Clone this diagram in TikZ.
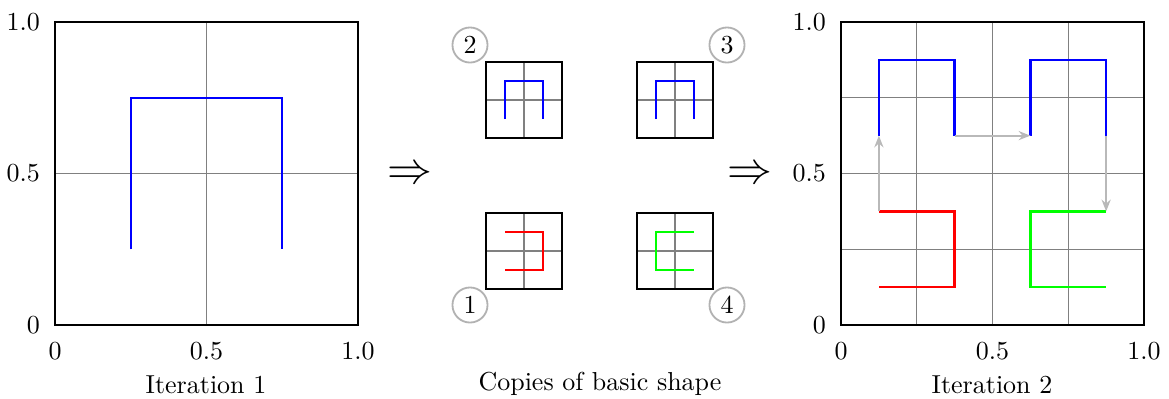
\documentclass[tikz,border=0pt]{standalone}
\usetikzlibrary{arrows.meta}
\begin{document}
\begin{tikzpicture}[x=0.385pt,y=-0.385pt,
  frame/.style={line width=1pt,black},
  gridl/.style={gray,line width=0.4pt},
  curve/.style={line width=0.9pt},
  link/.style={gray!55,line width=0.8pt,-{Stealth[length=4.5pt,width=3.5pt]}},
  num/.style={circle,draw=gray!60,line width=0.7pt,minimum size=13.5pt,inner sep=0pt,font=\normalsize},
  ytick/.style={font=\normalsize,inner sep=0pt,anchor=east,xshift=-5.6pt},
  xtick/.style={font=\normalsize,inner sep=0pt,anchor=north,yshift=-6.3pt},
  impl/.style={font=\fontsize{16}{18}\selectfont,inner sep=0pt}]
\useasboundingbox (0,0) rectangle (1169,398);
% ---------- Left plot ----------
\begin{scope}[shift={(55,325)},x={(116.66pt,0)},y={(0,116.66pt)}]
  \draw[gridl] (0.5,0) -- (0.5,1) (0,0.5) -- (1,0.5);
  \draw[curve,blue] (0.25,0.25) -- (0.25,0.75) -- (0.75,0.75) -- (0.75,0.25);
  \draw[frame] (0,0) rectangle (1,1);
  \node[ytick] (ly0) at (0,0) {0};
  \node[ytick] (ly1) at (0,0.5) {0.5};
  \node[ytick] (ly2) at (0,1) {1.0};
  \node[xtick] (lx0) at (0,0) {0};
  \node[xtick] (lx1) at (0.5,0) {0.5};
  \node[xtick] (lx2) at (1,0) {1.0};
\end{scope}
\node (cap1) at (206,385) {Iteration 1};
% ---------- implication arrows ----------
\node[impl] (imp1) at (410,175) {$\Rightarrow$};
\node[impl] (imp2) at (750,175) {$\Rightarrow$};
% ---------- Middle copies ----------
% box 2 (top-left)
\begin{scope}[shift={(486,138)},x={(29.26pt,0)},y={(0,29.26pt)}]
  \draw[gridl] (0.5,0) -- (0.5,1) (0,0.5) -- (1,0.5);
  \draw[curve,blue] (0.25,0.25) -- (0.25,0.75) -- (0.75,0.75) -- (0.75,0.25);
  \draw[frame] (0,0) rectangle (1,1);
\end{scope}
% box 3 (top-right)
\begin{scope}[shift={(637,138)},x={(29.26pt,0)},y={(0,29.26pt)}]
  \draw[gridl] (0.5,0) -- (0.5,1) (0,0.5) -- (1,0.5);
  \draw[curve,blue] (0.25,0.25) -- (0.25,0.75) -- (0.75,0.75) -- (0.75,0.25);
  \draw[frame] (0,0) rectangle (1,1);
\end{scope}
% box 1 (bottom-left)
\begin{scope}[shift={(486,289)},x={(29.26pt,0)},y={(0,29.26pt)}]
  \draw[gridl] (0.5,0) -- (0.5,1) (0,0.5) -- (1,0.5);
  \draw[curve,red] (0.25,0.75) -- (0.75,0.75) -- (0.75,0.25) -- (0.25,0.25);
  \draw[frame] (0,0) rectangle (1,1);
\end{scope}
% box 4 (bottom-right)
\begin{scope}[shift={(637,289)},x={(29.26pt,0)},y={(0,29.26pt)}]
  \draw[gridl] (0.5,0) -- (0.5,1) (0,0.5) -- (1,0.5);
  \draw[curve,green] (0.75,0.75) -- (0.25,0.75) -- (0.25,0.25) -- (0.75,0.25);
  \draw[frame] (0,0) rectangle (1,1);
\end{scope}
\node[num] (n2) at (470,45) {2};
\node[num] (n3) at (727,45) {3};
\node[num] (n1) at (470,305) {1};
\node[num] (n4) at (727,305) {4};
\node (cap2) at (600,384) {Copies of basic shape};
% ---------- Right plot ----------
\begin{scope}[shift={(841,325)},x={(116.66pt,0)},y={(0,116.66pt)}]
  \draw[gridl] (0.25,0) -- (0.25,1) (0.5,0) -- (0.5,1) (0.75,0) -- (0.75,1)
                (0,0.25) -- (1,0.25) (0,0.5) -- (1,0.5) (0,0.75) -- (1,0.75);
  \draw[curve,blue] (0.125,0.625) -- (0.125,0.875) -- (0.375,0.875) -- (0.375,0.625);
  \draw[curve,blue] (0.625,0.625) -- (0.625,0.875) -- (0.875,0.875) -- (0.875,0.625);
  \draw[curve,red] (0.125,0.375) -- (0.375,0.375) -- (0.375,0.125) -- (0.125,0.125);
  \draw[curve,green] (0.875,0.375) -- (0.625,0.375) -- (0.625,0.125) -- (0.875,0.125);
  \coordinate (r1e) at (0.125,0.375);
  \coordinate (b1s) at (0.125,0.625);
  \coordinate (b1e) at (0.375,0.625);
  \coordinate (b2s) at (0.625,0.625);
  \coordinate (b2e) at (0.875,0.625);
  \coordinate (g1s) at (0.875,0.375);
  \draw[link] (r1e) -- (b1s);
  \draw[link] (b1e) -- (b2s);
  \draw[link] (b2e) -- (g1s);
  \draw[frame] (0,0) rectangle (1,1);
  \node[ytick] (ry0) at (0,0) {0};
  \node[ytick] (ry1) at (0,0.5) {0.5};
  \node[ytick] (ry2) at (0,1) {1.0};
  \node[xtick] (rx0) at (0,0) {0};
  \node[xtick] (rx1) at (0.5,0) {0.5};
  \node[xtick] (rx2) at (1,0) {1.0};
\end{scope}
\node (cap3) at (992,385) {Iteration 2};
\end{tikzpicture}
\end{document}
